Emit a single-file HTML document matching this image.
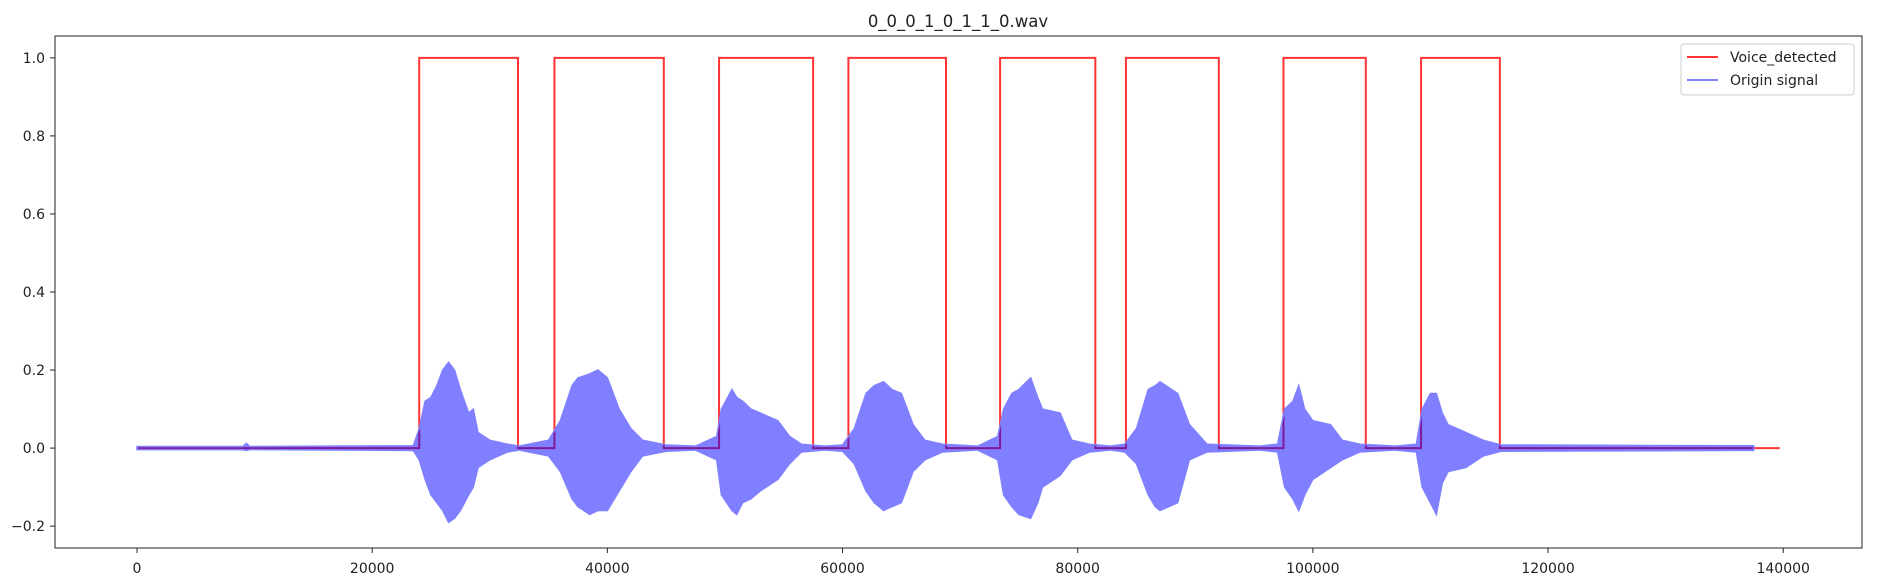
<!DOCTYPE html>
<html><head><meta charset="utf-8">
<style>
html,body{margin:0;padding:0;background:#fff;}
svg{display:block;font-family:"DejaVu Sans","Liberation Sans",sans-serif;}
</style></head>
<body>
<svg id="chart" width="1886" height="582" xmlns="http://www.w3.org/2000/svg">
  <text x="958" y="27" font-size="16.5" text-anchor="middle" fill="#222">0_0_0_1_0_1_1_0.wav</text>
  <g id="plot"></g>
  <g id="axes"></g>
  <g id="legend">
    <rect x="1681" y="44" width="173" height="51" rx="3" fill="#fff" fill-opacity="0.8" stroke="#ccc"/>
    <line x1="1687" y1="57" x2="1718" y2="57" stroke="#f00" stroke-opacity="0.8" stroke-width="2"/>
    <text x="1730" y="62" font-size="14" fill="#222">Voice_detected</text>
    <line x1="1687" y1="80" x2="1718" y2="80" stroke="#00f" stroke-opacity="0.5" stroke-width="2"/>
    <text x="1730" y="85" font-size="14" fill="#222">Origin signal</text>
  </g>
</svg>
<script>
// Voice detection segments (sample index start/end)
const segStarts = [24000, 35500, 49500, 60500, 73400, 84100, 97500, 109200];
const segEnds   = [32400, 44800, 57500, 68800, 81500, 92000, 104500, 115900];
const voiceEnd = 139700;
const signalEnd = 137500;
// Signal envelope knots
const envX = [0,9000,9300,9600,23500,24000,24500,25000,25500,26000,26500,27000,27500,28200,28600,29000,30000,31500,32500,
  35000,36000,37000,37500,38500,39200,40000,41000,42000,43000,45000,47500,
  49300,49700,50600,51000,51500,52200,53000,54500,55500,56500,58500,
  60000,61000,62000,62700,63500,64200,65000,66000,67000,68500,71500,
  73200,73700,74400,75000,76000,76600,77000,78500,79500,81000,82800,
  84000,85000,86000,86600,87000,88500,89500,91000,95500,
  97000,97600,98300,98800,99300,100000,101500,102500,104000,107000,
  108800,109300,110000,110500,111000,111500,113000,114500,116000,137500];
const envUp = [0.004,0.004,0.012,0.004,0.006,0.05,0.12,0.13,0.16,0.2,0.22,0.2,0.15,0.09,0.1,0.04,0.02,0.01,0.005,
  0.02,0.07,0.16,0.18,0.19,0.2,0.18,0.10,0.05,0.02,0.008,0.005,
  0.03,0.10,0.15,0.13,0.12,0.1,0.09,0.07,0.03,0.01,0.005,
  0.008,0.05,0.14,0.16,0.17,0.15,0.14,0.06,0.02,0.01,0.005,
  0.03,0.10,0.14,0.15,0.18,0.13,0.10,0.09,0.02,0.01,0.005,
  0.01,0.05,0.15,0.16,0.17,0.14,0.06,0.01,0.005,
  0.01,0.10,0.12,0.16,0.1,0.07,0.06,0.02,0.01,0.005,
  0.01,0.10,0.14,0.14,0.09,0.06,0.04,0.02,0.008,0.006];
const envLo = [-0.004,-0.004,-0.006,-0.004,-0.006,-0.03,-0.08,-0.12,-0.14,-0.16,-0.19,-0.18,-0.16,-0.12,-0.1,-0.05,-0.03,-0.01,-0.005,
  -0.02,-0.06,-0.13,-0.15,-0.17,-0.16,-0.16,-0.11,-0.06,-0.02,-0.008,-0.005,
  -0.03,-0.12,-0.16,-0.17,-0.14,-0.13,-0.11,-0.08,-0.04,-0.01,-0.005,
  -0.008,-0.04,-0.11,-0.14,-0.16,-0.15,-0.14,-0.06,-0.03,-0.01,-0.005,
  -0.03,-0.12,-0.15,-0.17,-0.18,-0.14,-0.10,-0.07,-0.03,-0.01,-0.005,
  -0.01,-0.04,-0.12,-0.15,-0.16,-0.14,-0.03,-0.01,-0.005,
  -0.01,-0.10,-0.13,-0.16,-0.12,-0.08,-0.05,-0.03,-0.01,-0.005,
  -0.01,-0.10,-0.14,-0.17,-0.09,-0.06,-0.05,-0.02,-0.008,-0.006];
const xTicks = [0,20000,40000,60000,80000,100000,120000,140000];
const yTicks = [-0.2,0.0,0.2,0.4,0.6,0.8,1.0];

const L=55,R=1862,T=36,B=548;
const xMin=-6975,xMax=146700,yMin=-0.256,yMax=1.056;
const X=v=>L+(v-xMin)/(xMax-xMin)*(R-L);
const Y=v=>B-(v-yMin)/(yMax-yMin)*(B-T);
const NS="http://www.w3.org/2000/svg";
const plot=document.getElementById('plot');
const axes=document.getElementById('axes');
function mk(tag,attrs,parent){const e=document.createElementNS(NS,tag);for(const k in attrs)e.setAttribute(k,attrs[k]);parent.appendChild(e);return e;}

// voice detected step line
let d=`M${X(0)},${Y(0)}`;
for(let i=0;i<segStarts.length;i++){
  d+=` L${X(segStarts[i])},${Y(0)} L${X(segStarts[i])},${Y(1)} L${X(segEnds[i])},${Y(1)} L${X(segEnds[i])},${Y(0)}`;
}
d+=` L${X(voiceEnd)},${Y(0)}`;
const vl=mk('path',{d:d,fill:'none',stroke:'#f00','stroke-opacity':'0.8','stroke-width':'2'},plot);



// signal envelope
let up=envX.map((x,i)=>`${X(x)},${Y(envUp[i])}`);
let lo=envX.map((x,i)=>`${X(x)},${Y(envLo[i])}`).reverse();
const sg=mk('polygon',{points:up.concat(lo).join(' '),fill:'#00f','fill-opacity':'0.5',stroke:'#8080ff','stroke-width':'1.5'},plot);



// frame
const fr=mk('rect',{x:L,y:T,width:R-L,height:B-T,fill:'none',stroke:'#222','stroke-width':'1'},axes);



xTicks.forEach(t=>{
  const tk=mk('line',{x1:X(t),y1:B,x2:X(t),y2:B+5,stroke:'#222'},axes);
  
  
  const tx=mk('text',{x:X(t),y:573,'font-size':'14','text-anchor':'middle',fill:'#222'},axes);
  tx.textContent=String(t);
  
  
});
yTicks.forEach(t=>{
  const tk=mk('line',{x1:L-5,y1:Y(t),x2:L,y2:Y(t),stroke:'#222'},axes);
  
  
  const tx=mk('text',{x:L-10,y:Y(t)+5,'font-size':'14','text-anchor':'end',fill:'#222'},axes);
  tx.textContent=(t<0?'\u2212':'')+Math.abs(t).toFixed(1);
  
  
});
</script>
</body></html>
